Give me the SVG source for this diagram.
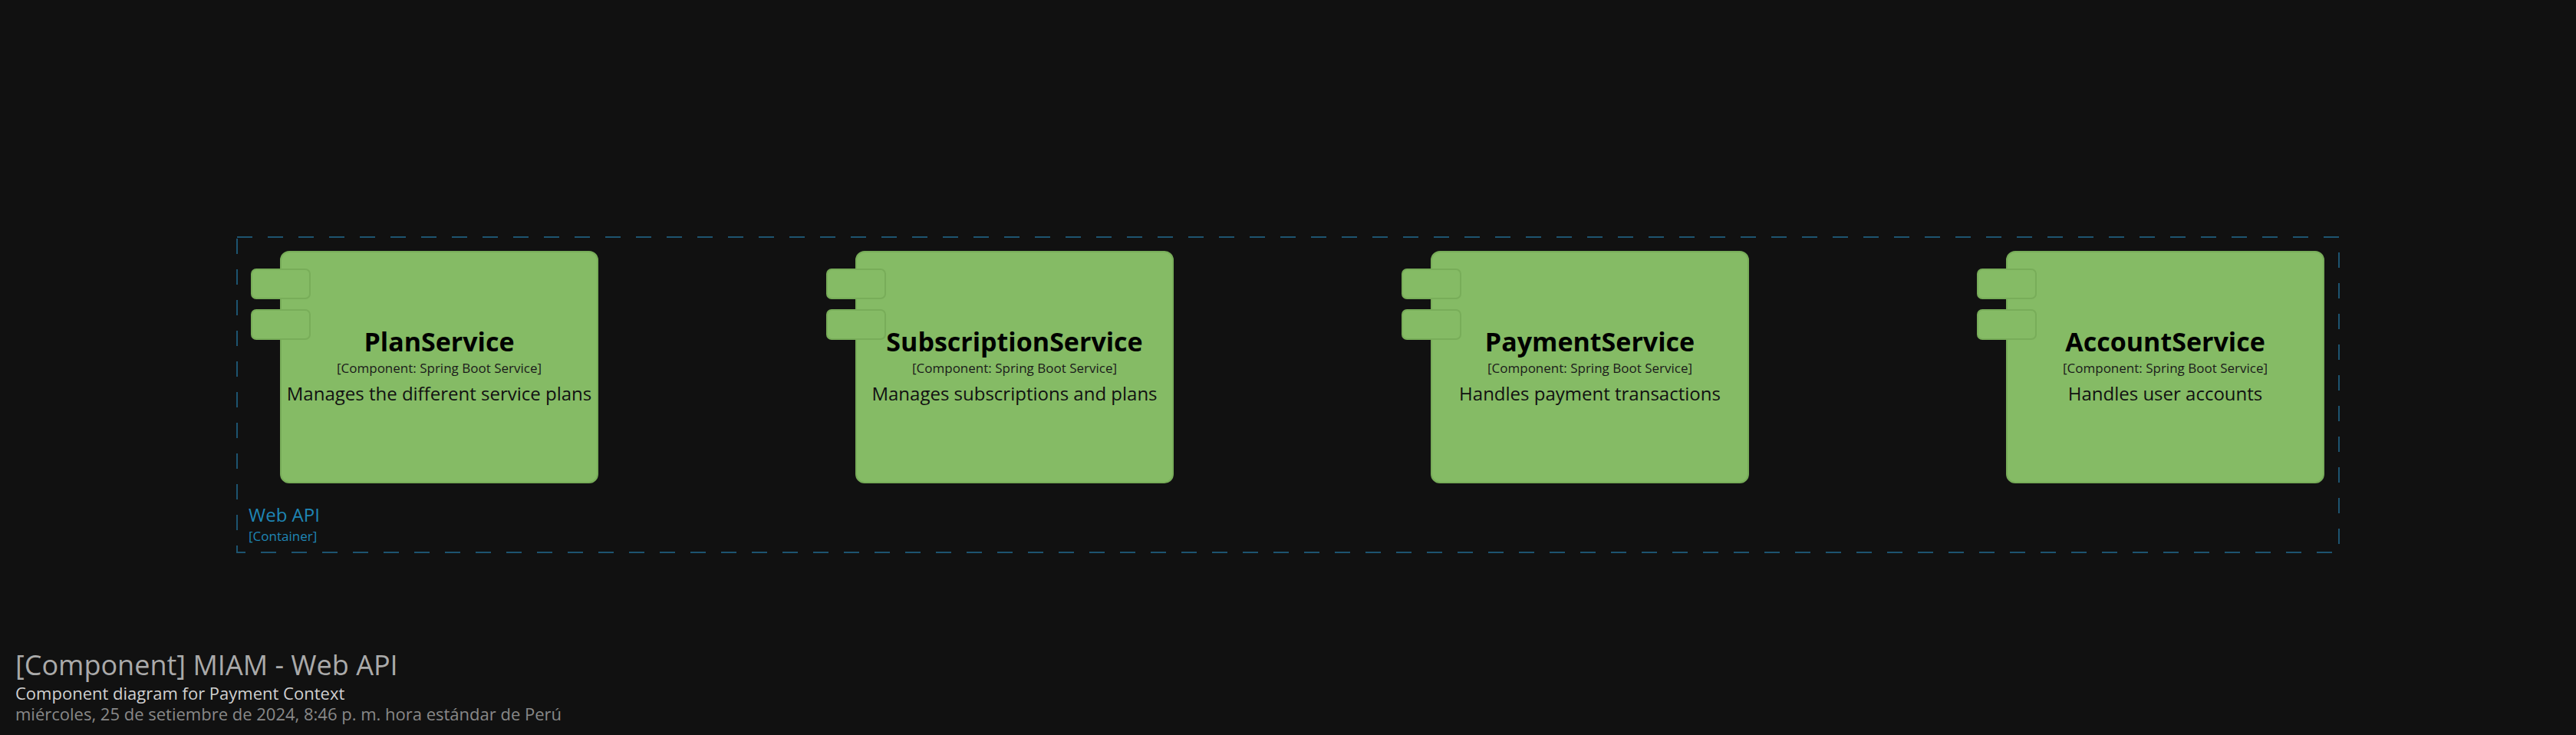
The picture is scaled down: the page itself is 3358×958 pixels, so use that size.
<svg xmlns="http://www.w3.org/2000/svg" width="3358" height="958" viewBox="0 0 3358 958">
<style>
.bg{fill:#111111}
.boundary{fill:none;stroke:#1d5470;stroke-width:2;stroke-dasharray:20 20}
.bname{font-family:"Open Sans","Liberation Sans",sans-serif;font-size:24px;fill:#1f86b5}
.btype{font-family:"Open Sans","Liberation Sans",sans-serif;font-size:17px;fill:#1f86b5}
.box{fill:#85bb65;stroke:#78ad59;stroke-width:2}
.tab{fill:#85bb65;stroke:#78ad59;stroke-width:2}
.title{font-family:"Open Sans","Liberation Sans",sans-serif;font-size:34px;font-weight:bold;fill:#000000;text-anchor:middle}
.type{font-family:"Open Sans","Liberation Sans",sans-serif;font-size:17px;fill:#1a1a1a;text-anchor:middle}
.desc{font-family:"Open Sans","Liberation Sans",sans-serif;font-size:24px;fill:#111111;text-anchor:middle}
.ft1{font-family:"Open Sans","Liberation Sans",sans-serif;font-size:36px;fill:#aaaaaa}
.ft2{font-family:"Open Sans","Liberation Sans",sans-serif;font-size:22px;fill:#d0d0d0}
.ft3{font-family:"Open Sans","Liberation Sans",sans-serif;font-size:22px;fill:#888888}
</style>
<rect class="bg" x="0" y="0" width="3358" height="958"/>
<g id="webapi-boundary">
<rect class="boundary" x="309" y="309" width="2740" height="411"/>
<text class="bname" x="324" y="680">Web API</text>
<text class="btype" x="324" y="705">[Container]</text>
</g>
<g id="connectors"></g>
<g id="planservice">
<rect class="box" x="366" y="328" width="413" height="301" rx="11"/>
<rect class="tab" x="328" y="351" width="76" height="38" rx="6"/>
<rect class="tab" x="328" y="404" width="76" height="38" rx="6"/>
<text class="title" x="572.5" y="458">PlanService</text>
<text class="type" x="572.5" y="486">[Component: Spring Boot Service]</text>
<text class="desc" x="572.5" y="522">Manages the different service plans</text>
</g>
<g id="subscriptionservice">
<rect class="box" x="1116" y="328" width="413" height="301" rx="11"/>
<rect class="tab" x="1078" y="351" width="76" height="38" rx="6"/>
<rect class="tab" x="1078" y="404" width="76" height="38" rx="6"/>
<text class="title" x="1322.5" y="458">SubscriptionService</text>
<text class="type" x="1322.5" y="486">[Component: Spring Boot Service]</text>
<text class="desc" x="1322.5" y="522">Manages subscriptions and plans</text>
</g>
<g id="paymentservice">
<rect class="box" x="1866" y="328" width="413" height="301" rx="11"/>
<rect class="tab" x="1828" y="351" width="76" height="38" rx="6"/>
<rect class="tab" x="1828" y="404" width="76" height="38" rx="6"/>
<text class="title" x="2072.5" y="458">PaymentService</text>
<text class="type" x="2072.5" y="486">[Component: Spring Boot Service]</text>
<text class="desc" x="2072.5" y="522">Handles payment transactions</text>
</g>
<g id="accountservice">
<rect class="box" x="2616" y="328" width="413" height="301" rx="11"/>
<rect class="tab" x="2578" y="351" width="76" height="38" rx="6"/>
<rect class="tab" x="2578" y="404" width="76" height="38" rx="6"/>
<text class="title" x="2822.5" y="458">AccountService</text>
<text class="type" x="2822.5" y="486">[Component: Spring Boot Service]</text>
<text class="desc" x="2822.5" y="522">Handles user accounts</text>
</g>
<g id="footer">
<text class="ft1" x="20" y="880">[Component] MIAM - Web API</text>
<text class="ft2" x="20" y="912">Component diagram for Payment Context</text>
<text class="ft3" x="20" y="939">miércoles, 25 de setiembre de 2024, 8:46 p. m. hora estándar de Perú</text>
</g>
</svg>
